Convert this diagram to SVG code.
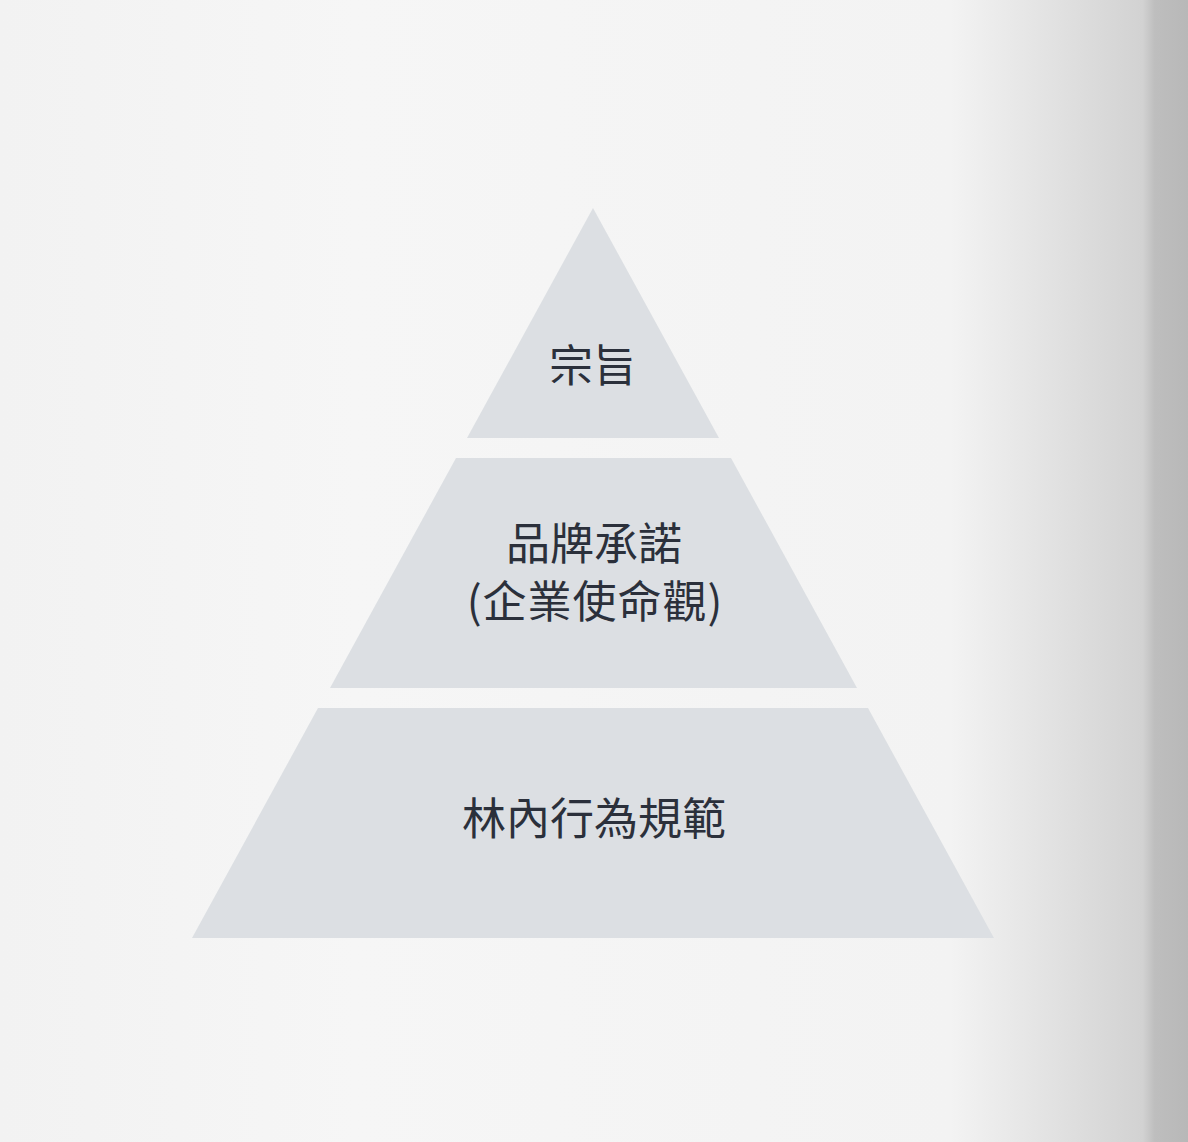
<svg xmlns="http://www.w3.org/2000/svg" width="1188" height="1142" viewBox="0 0 1188 1142">
<defs>
<linearGradient id="bg" x1="0" y1="0" x2="1188" y2="0" gradientUnits="userSpaceOnUse">
<stop offset="0" stop-color="#f2f2f2"/>
<stop offset="0.3" stop-color="#f6f6f6"/>
<stop offset="0.8" stop-color="#f3f3f3"/>
<stop offset="0.88" stop-color="#e3e3e3"/>
<stop offset="0.962" stop-color="#d2d2d2"/>
<stop offset="0.972" stop-color="#bebebe"/>
<stop offset="1" stop-color="#b8b8b8"/>
</linearGradient>
</defs>
<style>
.tier{fill:#dcdfe3;}
.lbl{font-family:"Noto Sans CJK TC","Noto Sans CJK SC",sans-serif;font-size:44px;fill:#2b303b;text-anchor:middle;}
</style>
<rect x="0" y="0" width="1188" height="1142" fill="url(#bg)"/>
<g id="tier-top">
<polygon class="tier" points="593,208 719,438 467,438"/>
<text class="lbl" x="593" y="382">宗旨</text>
</g>
<g id="tier-middle">
<polygon class="tier" points="456,458 731,458 857,688 330,688"/>
<text class="lbl" x="594" y="560">品牌承諾</text>
<text class="lbl" x="595" y="618" letter-spacing="1">(企業使命觀)</text>
</g>
<g id="tier-bottom">
<polygon class="tier" points="318,708 868,708 994,938 192,938"/>
<text class="lbl" x="594" y="835">林內行為規範</text>
</g>
<g id="connectors"></g>
</svg>
